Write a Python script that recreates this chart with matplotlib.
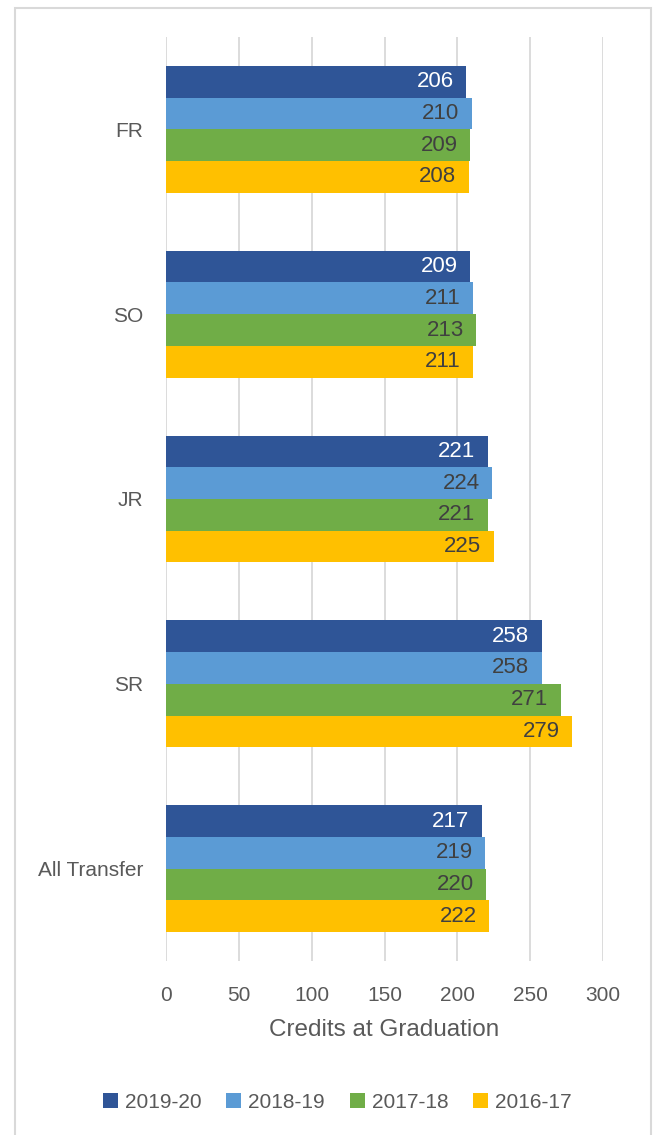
import matplotlib.pyplot as plt
from matplotlib.patches import Rectangle

# kategori mahasiswa transfer dan rata-rata kredit saat lulus per tahun ajaran
kategori = ['FR', 'SO', 'JR', 'SR', 'All Transfer']
tahun = ['2019-20', '2018-19', '2017-18', '2016-17']
kredit_2019_20 = [206, 209, 221, 258, 217]
kredit_2018_19 = [210, 211, 224, 258, 219]
kredit_2017_18 = [209, 213, 221, 271, 220]
kredit_2016_17 = [208, 211, 225, 279, 222]
nilai_ticks = [0, 50, 100, 150, 200, 250, 300]

seri = [kredit_2019_20, kredit_2018_19, kredit_2017_18, kredit_2016_17]
warna = ['#2F5597', '#5B9BD5', '#70AD47', '#FFC000']
warna_label = ['white', '#404040', '#404040', '#404040']

plt.rcParams['font.family'] = ['Liberation Sans', 'DejaVu Sans']

fig = plt.figure(figsize=(6.54, 11.35), dpi=100)
ax = fig.add_axes([166 / 654, 1 - 961 / 1135, (603 - 166) / 654, (961 - 37) / 1135])

tinggi = 0.1716  # tinggi satu batang dalam satuan kategori
for j, nilai in enumerate(seri):
    posisi = [i + (j - 1.5) * tinggi for i in range(len(kategori))]
    ax.barh(posisi, nilai, height=tinggi, color=warna[j], label=tahun[j], zorder=3)
    for y, v in zip(posisi, nilai):  # label nilai di ujung dalam batang
        ax.annotate(str(v), (v, y), xytext=(-9, 0), textcoords='offset points',
                    ha='right', va='center', fontsize=16, color=warna_label[j], zorder=4)

ax.set_xlim(0, 300)
ax.set_ylim(len(kategori) - 0.5, -0.5)
ax.set_xticks(nilai_ticks)
ax.set_yticks(range(len(kategori)))
ax.set_yticklabels(kategori)
ax.tick_params(axis='x', length=0, labelsize=15, labelcolor='#595959', pad=18)
ax.tick_params(axis='y', length=0, labelsize=15, labelcolor='#595959', pad=16.5)
ax.grid(axis='x', color='#D9D9D9', linewidth=1.3, zorder=0)
for s in ax.spines.values():
    s.set_visible(False)
ax.set_xlabel('Credits at Graduation', fontsize=17.5, color='#595959', labelpad=10)

# legenda di bagian bawah
fig.legend(loc='center', bbox_to_anchor=(0.516, 1 - 1102 / 1135), ncol=4, frameon=False,
           fontsize=15, labelcolor='#595959', handlelength=0.7, handleheight=0.7,
           handletextpad=0.35, columnspacing=1.2)

# bingkai tipis di sekeliling grafik
fig.patches.append(Rectangle((15 / 654, -0.05), (651 - 15) / 654, 1.05 - 8 / 1135,
                             transform=fig.transFigure, fill=False, edgecolor='#D9D9D9',
                             linewidth=1.5))

fig.savefig('out.png', dpi=100)
